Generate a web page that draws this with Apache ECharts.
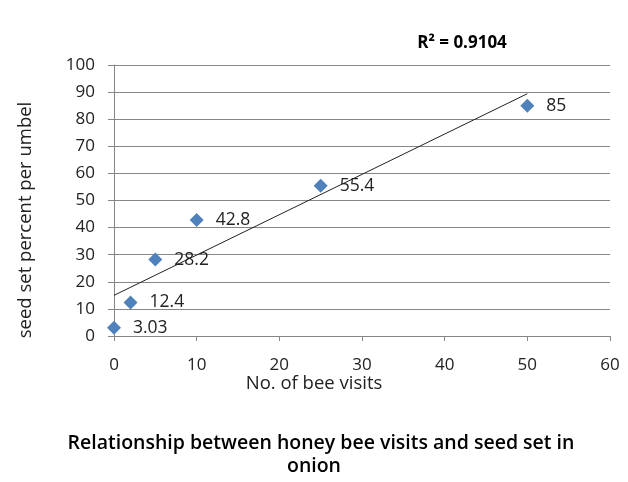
<!DOCTYPE html>
<html><head><meta charset="utf-8">
<script src="https://cdn.jsdelivr.net/npm/echarts@6/dist/echarts.min.js"></script>
<style>html,body{margin:0;padding:0;background:#fff}#c{width:628px;height:482px}</style>
</head><body><div id="c"></div>
<script>
var visits = [0, 2, 5, 10, 25, 50];
var seedSet = [3.03, 12.4, 28.2, 42.8, 55.4, 85];
var trendX = [0, 50];
var trendY = [15.0, 89.4];
var xTicks = [0, 10, 20, 30, 40, 50, 60];
var yTicks = [0, 10, 20, 30, 40, 50, 60, 70, 80, 90, 100];
var titleLines = ['Relationship between honey bee visits and seed set in', 'onion'];
var r2Text = 'R² = 0.9104';

var chart = echarts.init(document.getElementById('c'));
var pts = visits.map(function (v, i) { return [v, seedSet[i]]; });
var trend = trendX.map(function (v, i) { return [v, trendY[i]]; });
var labelFont = 'Open Sans';
var textColor = '#222222';
chart.setOption({
  animation: false,
  backgroundColor: '#fff',
  grid: { left: 114, right: 18, top: 65, bottom: 146 },
  xAxis: {
    type: 'value', min: xTicks[0], max: xTicks[xTicks.length - 1], interval: 10,
    axisLine: { show: true, lineStyle: { color: '#868686' } },
    axisTick: { show: true, length: 5, lineStyle: { color: '#868686' } },
    splitLine: { show: false },
    axisLabel: { color: textColor, fontFamily: labelFont, fontSize: 17, margin: 21 }
  },
  yAxis: {
    type: 'value', min: yTicks[0], max: yTicks[yTicks.length - 1], interval: 10,
    axisLine: { show: true, lineStyle: { color: '#868686' } },
    axisTick: { show: true, length: 6, lineStyle: { color: '#868686' } },
    splitLine: { show: true, lineStyle: { color: '#868686' } },
    axisLabel: { color: textColor, fontFamily: labelFont, fontSize: 17, margin: 19 }
  },
  graphic: [
    { type: 'text', x: 26, y: 220, rotation: Math.PI / 2,
      style: { text: 'seed set percent per umbel', fill: textColor, font: '18.5px "Open Sans"', align: 'center', verticalAlign: 'middle' } },
    { type: 'text', x: 314, y: 384,
      style: { text: 'No. of bee visits', fill: textColor, font: '18.5px "Open Sans"', align: 'center', verticalAlign: 'middle' } },
    { type: 'text', x: 462, y: 43,
      style: { text: r2Text, fill: '#000', font: 'bold 17px "Open Sans"', align: 'center', verticalAlign: 'middle' } },
    { type: 'text', x: 321, y: 443,
      style: { text: titleLines[0], fill: '#000', font: '600 19.5px "Open Sans"', align: 'center', verticalAlign: 'middle' } },
    { type: 'text', x: 314, y: 466,
      style: { text: titleLines[1], fill: '#000', font: '600 19.5px "Open Sans"', align: 'center', verticalAlign: 'middle' } }
  ],
  series: [
    { type: 'line', data: trend, symbol: 'none', silent: true,
      lineStyle: { color: '#222', width: 1 }, z: 2 },
    { type: 'scatter', data: pts, symbol: 'diamond', symbolSize: 14,
      itemStyle: { color: '#4F81BD', opacity: 1 }, z: 3,
      label: { show: true, position: 'right', distance: 12, color: textColor, fontFamily: labelFont, fontSize: 17.5,
        formatter: function (p) { return String(p.value[1]); } } }
  ]
});
</script></body></html>
